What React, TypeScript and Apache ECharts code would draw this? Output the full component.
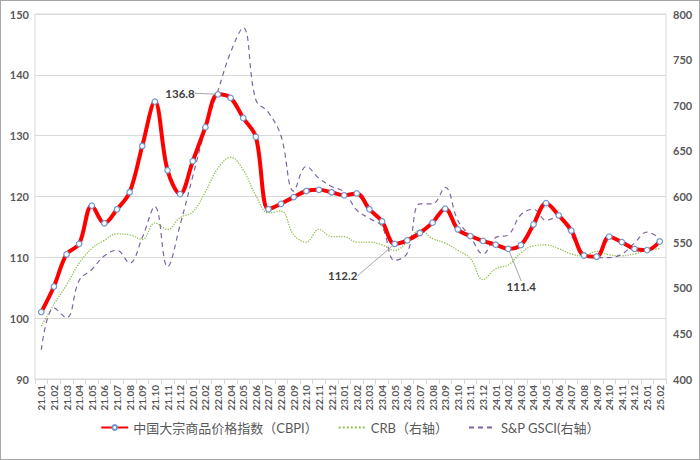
import { useEffect, useRef } from 'react';
import * as echarts from 'echarts';

const months = [
  '21.01', '21.02', '21.03', '21.04', '21.05', '21.06', '21.07', '21.08', '21.09', '21.10', '21.11', '21.12',
  '22.01', '22.02', '22.03', '22.04', '22.05', '22.06', '22.07', '22.08', '22.09', '22.10', '22.11', '22.12',
  '23.01', '23.02', '23.03', '23.04', '23.05', '23.06', '23.07', '23.08', '23.09', '23.10', '23.11', '23.12',
  '24.01', '24.02', '24.03', '24.04', '24.05', '24.06', '24.07', '24.08', '24.09', '24.10', '24.11', '24.12',
  '25.01', '25.02',
];

const cbpi = [
  101.0, 105.2, 110.5, 112.2, 118.5, 115.6, 117.9, 120.7, 128.3, 135.6, 124.3, 120.4,
  125.8, 131.4, 136.8, 136.2, 132.9, 129.8, 117.9, 118.8, 119.9, 120.9, 121.1, 120.7,
  120.2, 120.5, 117.9, 115.9, 112.2, 112.8, 114.0, 115.7, 118.0, 114.6, 113.5, 112.7,
  112.1, 111.4, 112.0, 115.4, 118.9, 116.9, 114.4, 110.3, 110.1, 113.4, 112.5, 111.4,
  111.2, 112.6,
];

const crb = [
  458, 482, 503, 527, 543, 552, 559, 558, 553, 571, 564, 577,
  583, 605, 631, 643, 629, 601, 582, 584, 558, 550, 564, 556,
  556, 550, 550, 547, 541, 550, 563, 554, 549, 541, 532, 509,
  521, 525, 538, 546, 547, 543, 537, 535, 540, 536, 535, 537,
  541, 543,
];

const gsci = [
  432, 478, 467, 508, 520, 535, 541, 527, 555, 589, 523, 569,
  622, 674, 716, 758, 785, 706, 692, 666, 606, 633, 620, 611,
  605, 585, 576, 567, 530, 538, 592, 592, 610, 574, 556, 537,
  555, 558, 580, 586, 574, 578, 557, 537, 533, 533, 537, 549,
  561, 554,
];

const seriesNames = ['中国大宗商品价格指数（CBPI）', 'CRB（右轴）', 'S&P GSCI(右轴）'];
const leftTicks = [90, 100, 110, 120, 130, 140, 150];
const rightTicks = [400, 450, 500, 550, 600, 650, 700, 750, 800];
const annotatedMonths = ['22.03', '23.05', '24.02'];

// label offsets (layout only)
const labelOffsets: Record<string, [number, number]> = {
  '22.03': [-38, -1],
  '23.05': [-52, 32],
  '24.02': [13, 38],
};

const FONT = 'Lato, "Noto Sans CJK SC", sans-serif';

export default function App() {
  const ref = useRef<HTMLDivElement>(null);

  useEffect(() => {
    if (!ref.current) return;
    const chart = echarts.init(ref.current, undefined, { renderer: 'svg' });

    const cbpiData = cbpi.map((v, i) =>
      annotatedMonths.includes(months[i])
        ? { value: v, label: { show: true } }
        : v
    );

    chart.setOption({
      animation: false,
      backgroundColor: '#ffffff',
      grid: {
        left: 34,
        right: 33,
        top: 13,
        bottom: 80,
        show: true,
        borderColor: '#d9d9d9',
        borderWidth: 1,
      },
      legend: {
        bottom: 20,
        left: 'center',
        itemWidth: 27,
        itemHeight: 6,
        itemGap: 20,
        textStyle: { color: '#595959', fontSize: 13, fontFamily: FONT },
        data: [
          { name: seriesNames[0] },
          { name: seriesNames[1], itemStyle: { opacity: 0 } },
          { name: seriesNames[2], itemStyle: { opacity: 0 } },
        ],
      },
      xAxis: {
        type: 'category',
        data: months,
        boundaryGap: true,
        axisLine: { show: true, lineStyle: { color: '#d9d9d9' } },
        axisTick: { show: true, length: 5, lineStyle: { color: '#d9d9d9' } },
        axisLabel: {
          rotate: 90,
          interval: 0,
          color: '#595959',
          fontSize: 10,
          fontWeight: 'bold',
          fontFamily: FONT,
          margin: 6,
        },
      },
      yAxis: [
        {
          type: 'value',
          min: leftTicks[0],
          max: leftTicks[leftTicks.length - 1],
          interval: leftTicks[1] - leftTicks[0],
          axisLine: { show: false },
          axisTick: { show: false },
          splitLine: { show: true, lineStyle: { color: '#d9d9d9', width: 1 } },
          axisLabel: {
            color: '#595959',
            fontSize: 11,
            fontWeight: 'bold',
            fontFamily: FONT,
            margin: 6,
          },
        },
        {
          type: 'value',
          min: rightTicks[0],
          max: rightTicks[rightTicks.length - 1],
          interval: rightTicks[1] - rightTicks[0],
          axisLine: { show: false },
          axisTick: { show: false },
          splitLine: { show: false },
          axisLabel: {
            color: '#595959',
            fontSize: 11,
            fontWeight: 'bold',
            fontFamily: FONT,
            margin: 7,
          },
        },
      ],
      series: [
        {
          name: seriesNames[0],
          type: 'line',
          yAxisIndex: 0,
          data: cbpiData,
          smooth: 0.35,
          z: 5,
          symbol: 'circle',
          symbolSize: 5.5,
          showSymbol: true,
          lineStyle: { color: '#ff0000', width: 4 },
          itemStyle: { color: '#ffffff', borderColor: '#6f95cf', borderWidth: 1.2 },
          label: {
            show: false,
            position: 'inside',
            formatter: (p: any) => (typeof p.value === 'number' ? p.value.toFixed(1) : p.value),
            color: '#404040',
            fontSize: 11.5,
            fontWeight: 'bold',
            fontFamily: FONT,
          },
          labelLine: {
            show: true,
            lineStyle: { color: '#a6a6a6', width: 1 },
          },
          labelLayout: (params: any) => {
            const key = months[params.dataIndex];
            const off = labelOffsets[key];
            if (!off) return {};
            return { dx: off[0], dy: off[1] };
          },
        },
        {
          name: seriesNames[1],
          type: 'line',
          yAxisIndex: 1,
          data: crb,
          smooth: 0.4,
          z: 3,
          showSymbol: false,
          symbol: 'none',
          lineStyle: { color: '#92c050', width: 1.3, type: 'dotted' },
          itemStyle: { color: '#92c050' },
        },
        {
          name: seriesNames[2],
          type: 'line',
          yAxisIndex: 1,
          data: gsci,
          smooth: 0.4,
          z: 4,
          showSymbol: false,
          symbol: 'none',
          lineStyle: { color: '#8064a2', width: 1.2, type: [5, 4] },
          itemStyle: { color: '#8064a2' },
        },
      ],
    });

    return () => chart.dispose();
  }, []);

  return (
    <div
      style={{
        position: 'fixed',
        left: 0,
        top: 0,
        width: 700,
        height: 460,
        boxSizing: 'border-box',
        border: '1px solid #a6a6a6',
        background: '#fff',
      }}
    >
      <div ref={ref} style={{ width: 698, height: 458 }} />
    </div>
  );
}
